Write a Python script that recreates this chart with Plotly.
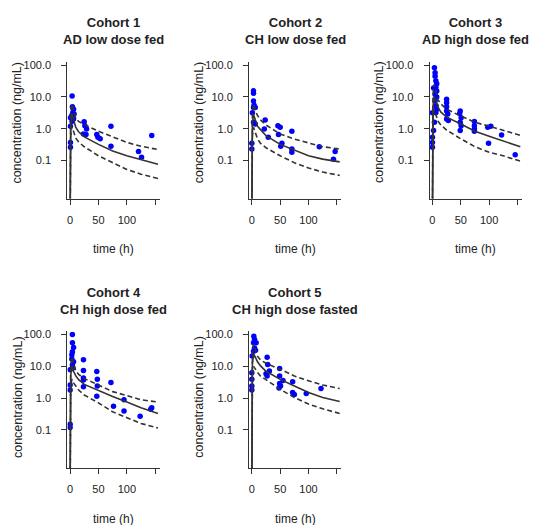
import plotly.graph_objects as go

# ---- panel headings ----
cohort_titles = ["Cohort 1", "Cohort 2", "Cohort 3", "Cohort 4", "Cohort 5"]
cohort_subtitles = ["AD low dose fed", "CH low dose fed", "AD high dose fed",
                    "CH high dose fed", "CH high dose fasted"]

# ---- model prediction grid (h) ----
pred_time = [0, 1, 3, 6, 10, 15, 25, 50, 75, 100, 125, 155]

# median and 5th / 95th percentile predictions (ng/mL)
median_1 = [0.001, 1.5, 3.0, 1.8, 1.1, 0.8, 0.55, 0.32, 0.2, 0.14, 0.105, 0.076]
upper_1 = [0.002, 3.0, 6.0, 3.5, 2.1, 1.7, 1.35, 0.83, 0.55, 0.37, 0.28, 0.22]
lower_1 = [0.0005, 0.6, 1.2, 0.8, 0.5, 0.38, 0.27, 0.14, 0.085, 0.052, 0.037, 0.027]

median_2 = [0.001, 1.4, 2.8, 1.8, 1.2, 0.95, 0.6, 0.32, 0.21, 0.14, 0.11, 0.09]
upper_2 = [0.002, 3.0, 6.0, 3.8, 2.6, 1.9, 1.3, 0.68, 0.47, 0.36, 0.27, 0.23]
lower_2 = [0.0005, 0.6, 1.1, 0.75, 0.48, 0.35, 0.25, 0.14, 0.085, 0.058, 0.043, 0.034]

median_3 = [0.001, 5.0, 10.0, 7.0, 4.6, 3.3, 2.3, 1.4, 0.83, 0.58, 0.4, 0.27]
upper_3 = [0.002, 12.0, 25.0, 14.0, 8.0, 6.0, 4.1, 2.5, 1.58, 1.2, 0.87, 0.62]
lower_3 = [0.0005, 2.0, 4.0, 2.6, 1.7, 1.3, 0.9, 0.48, 0.27, 0.18, 0.14, 0.095]

median_4 = [0.001, 5.0, 10.5, 7.0, 5.0, 3.8, 2.7, 1.7, 1.12, 0.76, 0.5, 0.33]
upper_4 = [0.002, 10.0, 20.0, 12.0, 7.2, 5.6, 4.1, 2.6, 1.6, 1.2, 0.89, 0.75]
lower_4 = [0.0005, 2.0, 4.0, 3.0, 2.4, 1.8, 1.25, 0.71, 0.37, 0.25, 0.16, 0.115]

median_5 = [0.001, 12.0, 24.0, 20.0, 14.0, 10.5, 7.0, 3.9, 2.4, 1.5, 1.05, 0.78]
upper_5 = [0.002, 25.0, 50.0, 32.0, 21.0, 16.0, 12.5, 8.1, 5.0, 3.5, 2.6, 2.0]
lower_5 = [0.0005, 5.0, 10.0, 8.0, 6.5, 5.0, 3.8, 1.9, 1.05, 0.65, 0.46, 0.33]

# ---- observed concentrations ----
obs_time_1 = [3.5, 4, 6, 4.7, 3, 7, 0.5, 6, 3.5, 0.5, 0.5, 0.5, 24.7, 26, 29, 23.5,
              28, 47, 49, 53, 72, 72, 120.6, 126, 144]
obs_conc_1 = [10.7, 4.9, 4.1, 3.2, 2.6, 2.9, 2.2, 2.0, 1.7, 1.2, 0.37, 0.26, 1.66,
              1.23, 0.98, 0.68, 0.65, 0.65, 0.54, 0.48, 1.2, 0.28, 0.19, 0.126, 0.61]

obs_time_2 = [3, 3, 3, 4, 3, 6, 1, 3, 6, 0, 0, 23.5, 22, 29, 46, 50, 47, 53, 51,
              70.6, 70.6, 70.6, 119, 147, 144]
obs_conc_2 = [15.5, 13, 7.5, 5.5, 4.6, 4.6, 3.2, 1.6, 1.4, 0.35, 0.23, 1.86, 0.98,
              0.54, 1.24, 1.1, 0.65, 0.35, 0.28, 0.83, 0.23, 0.18, 0.27, 0.19, 0.11]

obs_time_3 = [3.5, 4.7, 4.7, 6, 7.6, 6, 2, 7.6, 4.7, 7.6, 4.7, 6.5, 7.6, 0, 6, 3.5,
              2, 0, 0, 0, 25, 25, 25, 25, 27, 25, 28, 49, 48, 50.6, 49, 50.6, 49,
              74, 74, 74, 74, 97.6, 103, 99, 122, 146]
obs_conc_3 = [83, 58, 45, 32, 26, 20, 19, 15.4, 12, 10, 7.5, 5.3, 4.1, 3.2, 3.2, 1.6,
              0.87, 0.54, 0.37, 0.26, 8.5, 6.6, 4.9, 3.6, 2.9, 2.0, 1.8, 3.6, 3.0,
              2.2, 1.6, 1.24, 0.87, 1.67, 1.24, 0.98, 0.83, 1.1, 1.2, 0.35, 0.63, 0.15]

obs_time_4 = [4, 4, 6, 4, 3, 3, 6, 4, 4.7, 0, 0, 0, 0, 0, 23.5, 23.5, 23.5, 23.5,
              23.5, 47, 48, 48, 47, 72, 76.5, 95, 95, 123.5, 144, 142]
obs_conc_4 = [100, 55, 39, 29, 23, 17, 14, 11, 8.9, 7.8, 2.6, 1.8, 0.15, 0.12, 16,
              7.4, 4.3, 3.7, 2.3, 6.9, 3.9, 2.4, 1.15, 3.1, 0.56, 0.89, 0.39, 0.27,
              0.5, 0.45]

obs_time_5 = [3.5, 4.7, 3, 7.6, 4.7, 6.5, 3, 0.6, 0, 0, 0, 0, 27, 28, 31, 25, 27,
              49, 49, 55, 49, 50.6, 48, 72, 72, 75, 96, 122]
obs_conc_5 = [89, 70, 55, 55, 38, 32, 30, 21, 6.3, 3.9, 2.4, 1.8, 19.5, 11.5, 7.1,
              5.9, 5.0, 8.5, 5.0, 3.6, 2.9, 2.4, 2.1, 3.3, 1.5, 1.3, 1.4, 2.0]

# ---- axis ticks ----
x_tickvals = [0, 50, 100, 150]
x_ticktext = ["0", "50", "100", ""]
y_tickvals = [100, 10, 1, 0.1]
y_ticktext = ["100.0", "10.0", "1.0", "0.1"]

obs_time = [obs_time_1, obs_time_2, obs_time_3, obs_time_4, obs_time_5]
obs_conc = [obs_conc_1, obs_conc_2, obs_conc_3, obs_conc_4, obs_conc_5]
medians = [median_1, median_2, median_3, median_4, median_5]
uppers = [upper_1, upper_2, upper_3, upper_4, upper_5]
lowers = [lower_1, lower_2, lower_3, lower_4, lower_5]

W, H = 537, 525
FONT = "Liberation Sans, Arial, Helvetica, sans-serif"
TXT = "#222222"

# panel plot regions in pixels: (left, right, top, bottom)
col_px = [(67.3, 159.7), (249.0, 341.4), (429.6, 522.0)]
row_px = [(59.3, 196.7), (330.3, 467.7)]
panel_pos = [(0, 0), (0, 1), (0, 2), (1, 0), (1, 1)]

fig = go.Figure()
layout = dict(
    width=W, height=H,
    margin=dict(l=0, r=0, t=0, b=0),
    paper_bgcolor="white", plot_bgcolor="white",
    showlegend=False,
    font=dict(family=FONT, color=TXT, size=11),
)
annotations = []

for i in range(5):
    r, c = panel_pos[i]
    x0, x1 = col_px[c]
    yt, yb = row_px[r]
    xa = "x" if i == 0 else f"x{i+1}"
    ya = "y" if i == 0 else f"y{i+1}"
    xkey = "xaxis" if i == 0 else f"xaxis{i+1}"
    ykey = "yaxis" if i == 0 else f"yaxis{i+1}"

    fig.add_trace(go.Scatter(
        x=obs_time[i], y=obs_conc[i], mode="markers", xaxis=xa, yaxis=ya,
        marker=dict(color="#0000FF", size=5.5, line=dict(width=0)),
        hoverinfo="skip"))
    for series, dash in ((uppers[i], "5px,3px"), (lowers[i], "5px,3px"),
                         (medians[i], "solid")):
        fig.add_trace(go.Scatter(
            x=pred_time, y=series, mode="lines", xaxis=xa, yaxis=ya,
            line=dict(color="#333333", width=1.6, dash=dash),
            hoverinfo="skip"))

    layout[xkey] = dict(
        domain=[x0 / W, x1 / W], range=[-5, 158], anchor=ya,
        showgrid=False, zeroline=False, showline=True, linecolor="#333333",
        linewidth=1, ticks="outside", ticklen=5, tickcolor="#333333",
        tickvals=x_tickvals, ticktext=x_ticktext, ticklabelstandoff=6,
        tickfont=dict(size=11, color=TXT, family=FONT))
    layout[ykey] = dict(
        domain=[1 - yb / H, 1 - yt / H], type="log", range=[-2.2, 2.1],
        anchor=xa, showgrid=False, zeroline=False, showline=True,
        linecolor="#333333", linewidth=1, ticks="outside", ticklen=5,
        tickcolor="#333333", tickvals=y_tickvals, ticktext=y_ticktext,
        ticklabelstandoff=8, tickfont=dict(size=11, color=TXT, family=FONT))

    cx = (x0 + x1) / 2
    title_y = 20 if r == 0 else 292
    annotations.append(dict(
        text=f"<b>{cohort_titles[i]}</b><br><b>{cohort_subtitles[i]}</b>",
        x=cx / W, y=1 - (title_y + 8) / H, xref="paper", yref="paper",
        xanchor="center", yanchor="middle", showarrow=False,
        font=dict(size=13, color=TXT, family=FONT)))
    annotations.append(dict(
        text="time (h)", x=cx / W, y=1 - (yb + 51) / H, xref="paper",
        yref="paper", xanchor="center", yanchor="middle", showarrow=False,
        font=dict(size=12, color=TXT, family=FONT)))
    annotations.append(dict(
        text="concentration (ng/mL)", x=(x0 - 50) / W,
        y=1 - (120 if r == 0 else 396) / H, xref="paper", yref="paper",
        xanchor="center", yanchor="middle", textangle=-90, showarrow=False,
        font=dict(size=12.5, color=TXT, family=FONT)))

layout["annotations"] = annotations
fig.update_layout(**layout)
fig.write_html("out.html")
